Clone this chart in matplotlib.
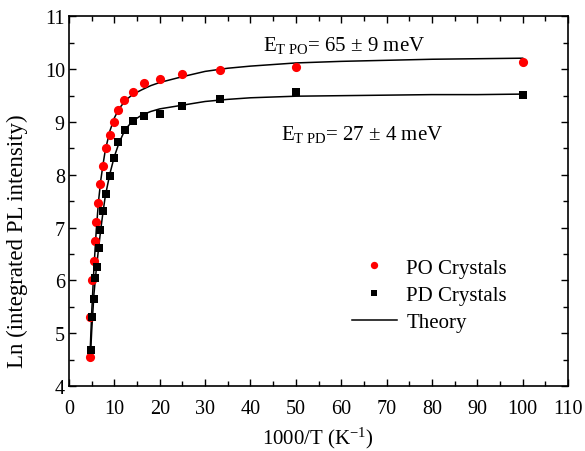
import matplotlib
matplotlib.use("Agg")
import matplotlib.pyplot as plt
from matplotlib.ticker import MultipleLocator

plt.rcParams['font.family'] = ['Liberation Serif', 'DejaVu Serif']
plt.rcParams['mathtext.fontset'] = 'custom'
plt.rcParams['mathtext.rm'] = 'Liberation Serif'
plt.rcParams['mathtext.it'] = 'Liberation Serif:italic'

# PO crystals (red circles)
po_x = [4.6, 4.6, 5.1, 5.45, 5.65, 6.0, 6.4, 6.9, 7.5, 8.2, 8.95, 9.9, 10.8, 12.2, 14.2, 16.6, 20.0, 25.0, 33.3, 50.0, 100.0]
po_y = [4.55, 5.31, 6.0, 6.37, 6.74, 7.11, 7.47, 7.82, 8.17, 8.50, 8.75, 9.0, 9.23, 9.41, 9.57, 9.74, 9.82, 9.92, 9.99, 10.04, 10.14]

# PD crystals (black squares)
pd_x = [4.85, 5.1, 5.4, 5.65, 6.15, 6.5, 6.9, 7.45, 8.1, 8.95, 9.85, 10.9, 12.4, 14.1, 16.5, 20.0, 25.0, 33.3, 50.0, 100.0]
pd_y = [4.68, 5.30, 5.65, 6.04, 6.26, 6.62, 6.95, 7.31, 7.64, 7.98, 8.32, 8.62, 8.85, 9.02, 9.11, 9.16, 9.30, 9.43, 9.57, 9.51]

# Theory curves
th_po_x = [4.7, 5.0, 5.5, 6.0, 6.5, 7.0, 7.5, 8.0, 9.0, 10.0, 11.0, 12.0, 13.0, 14.0, 16.0, 18.0, 20.0, 25.0, 30.0, 35.0, 40.0, 50.0, 60.0, 70.0, 80.0, 90.0, 100.0]
th_po_y = [4.75, 5.4, 6.25, 6.95, 7.5, 7.9, 8.2, 8.47, 8.83, 9.08, 9.25, 9.36, 9.45, 9.52, 9.61, 9.69, 9.75, 9.86, 9.96, 10.02, 10.06, 10.12, 10.15, 10.17, 10.19, 10.20, 10.21]
th_pd_x = [4.8, 5.0, 5.5, 6.0, 6.5, 7.0, 7.5, 8.0, 9.0, 10.0, 11.0, 12.0, 13.0, 14.0, 16.0, 18.0, 20.0, 25.0, 30.0, 35.0, 40.0, 50.0, 60.0, 70.0, 80.0, 90.0, 100.0]
th_pd_y = [4.7, 5.05, 5.75, 6.2, 6.6, 6.97, 7.3, 7.6, 8.02, 8.35, 8.6, 8.79, 8.92, 9.02, 9.13, 9.2, 9.25, 9.32, 9.39, 9.43, 9.46, 9.49, 9.5, 9.51, 9.52, 9.52, 9.53]

labels = ['PO Crystals', 'PD Crystals', 'Theory']
ann_po = r'E$_{\mathrm{T\ PO}}$= 65 ± 9 meV'
ann_pd = r'E$_{\mathrm{T\ PD}}$= 27 ± 4 meV'

fig = plt.figure(figsize=(5.85, 4.52), dpi=100)
ax = fig.add_axes([0.118, 0.1438, 0.853, 0.8175])

p1, = ax.plot(po_x, po_y, 'o', color='#ff0000', markersize=6.6, markeredgewidth=0, zorder=3)
p2, = ax.plot(pd_x, pd_y, 's', color='black', markersize=5.8, markeredgewidth=0, zorder=3)
l1, = ax.plot(th_po_x, th_po_y, '-', color='black', linewidth=1.1, zorder=2)
ax.plot(th_pd_x, th_pd_y, '-', color='black', linewidth=1.1, zorder=2)

ax.set_xlim(0, 110)
ax.set_ylim(4, 11)
ax.xaxis.set_major_locator(MultipleLocator(10))
ax.xaxis.set_minor_locator(MultipleLocator(5))
ax.yaxis.set_major_locator(MultipleLocator(1))
ax.yaxis.set_minor_locator(MultipleLocator(0.5))
ax.tick_params(which='both', direction='in', top=True, right=True, width=1.0, labelsize=14.5)
ax.tick_params(which='major', length=5.3)
ax.tick_params(which='minor', length=3.5)
ax.tick_params(axis='x', pad=9)
ax.tick_params(axis='y', pad=3)
for s in ax.spines.values():
    s.set_linewidth(1.2)

ax.set_xlabel(r'1000/T (K$^{\mathrm{-1}}$)', fontsize=15)
ax.set_ylabel('Ln (integrated PL intensity)', fontsize=16.5)
ax.xaxis.set_label_coords(0.499, -0.106)
ax.yaxis.set_label_coords(-0.082, 0.395)

ax.text(42.7, 10.36, ann_po, fontsize=15, ha='left', va='baseline')
ax.text(46.8, 8.67, ann_pd, fontsize=15, ha='left', va='baseline')

leg = ax.legend([p1, p2, l1], labels, loc='upper left', bbox_to_anchor=(0.567, 0.346),
                frameon=False, fontsize=15, markerscale=0.8, handlelength=2.15,
                handletextpad=0.45, labelspacing=0.37, borderpad=0, borderaxespad=0)

fig.savefig('out.png', dpi=100)
